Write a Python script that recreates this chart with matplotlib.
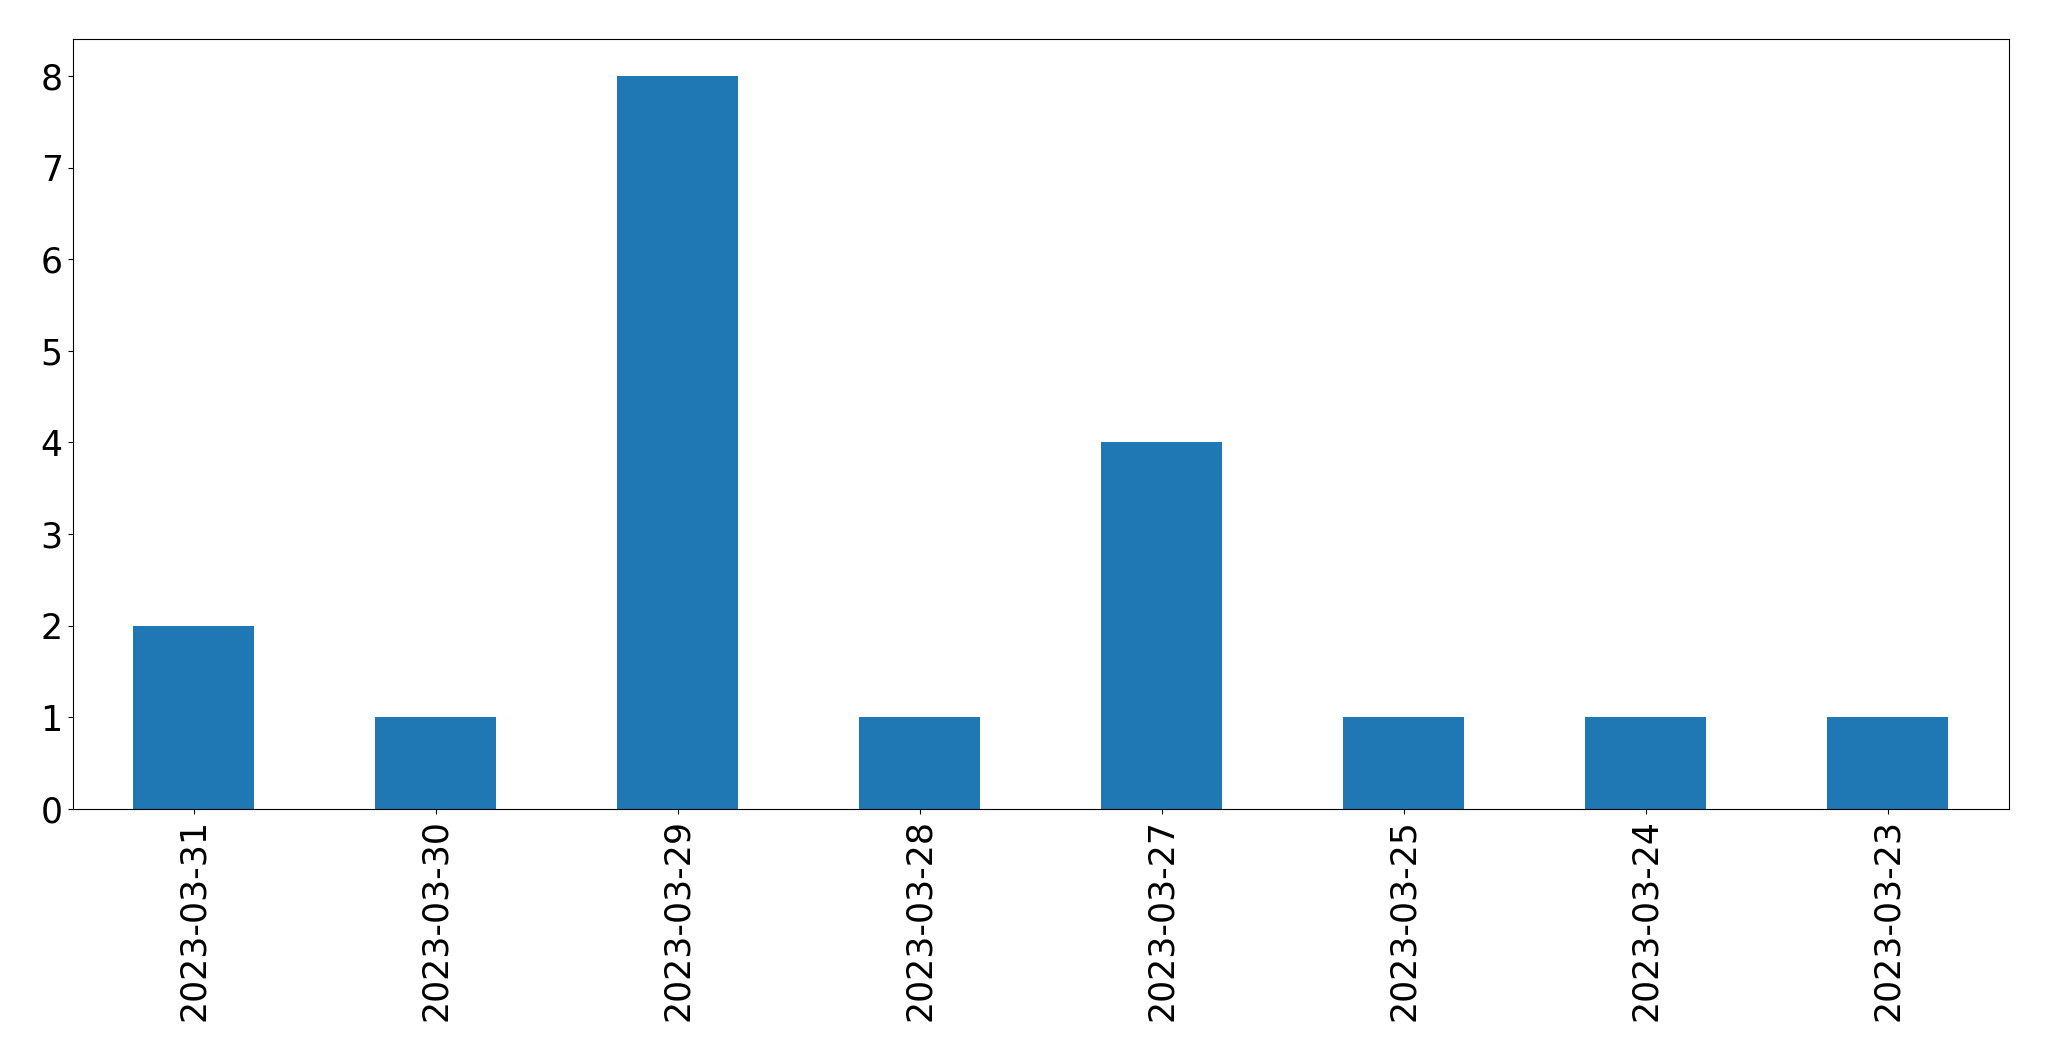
import matplotlib
matplotlib.use("Agg")
import matplotlib.pyplot as plt

dates = ["2023-03-31", "2023-03-30", "2023-03-29", "2023-03-28",
         "2023-03-27", "2023-03-25", "2023-03-24", "2023-03-23"]
counts = [2, 1, 8, 1, 4, 1, 1, 1]

fig = plt.figure(figsize=(20.49, 10.61), dpi=100)
ax = fig.add_axes([72.5 / 2049, 1 - 809 / 1061, (2009 - 72.5) / 2049, (809 - 39.3) / 1061])
x = list(range(len(dates)))
ax.bar(x, counts, width=0.5, color="#1f77b4")
ax.set_xlim(-0.5, len(dates) - 0.5)
ax.set_ylim(0, 8.4)
ax.set_xticks(x)
ax.set_xticklabels(dates, rotation=90)
ax.tick_params(labelsize=25)
fig.savefig("out.png", dpi=100)
